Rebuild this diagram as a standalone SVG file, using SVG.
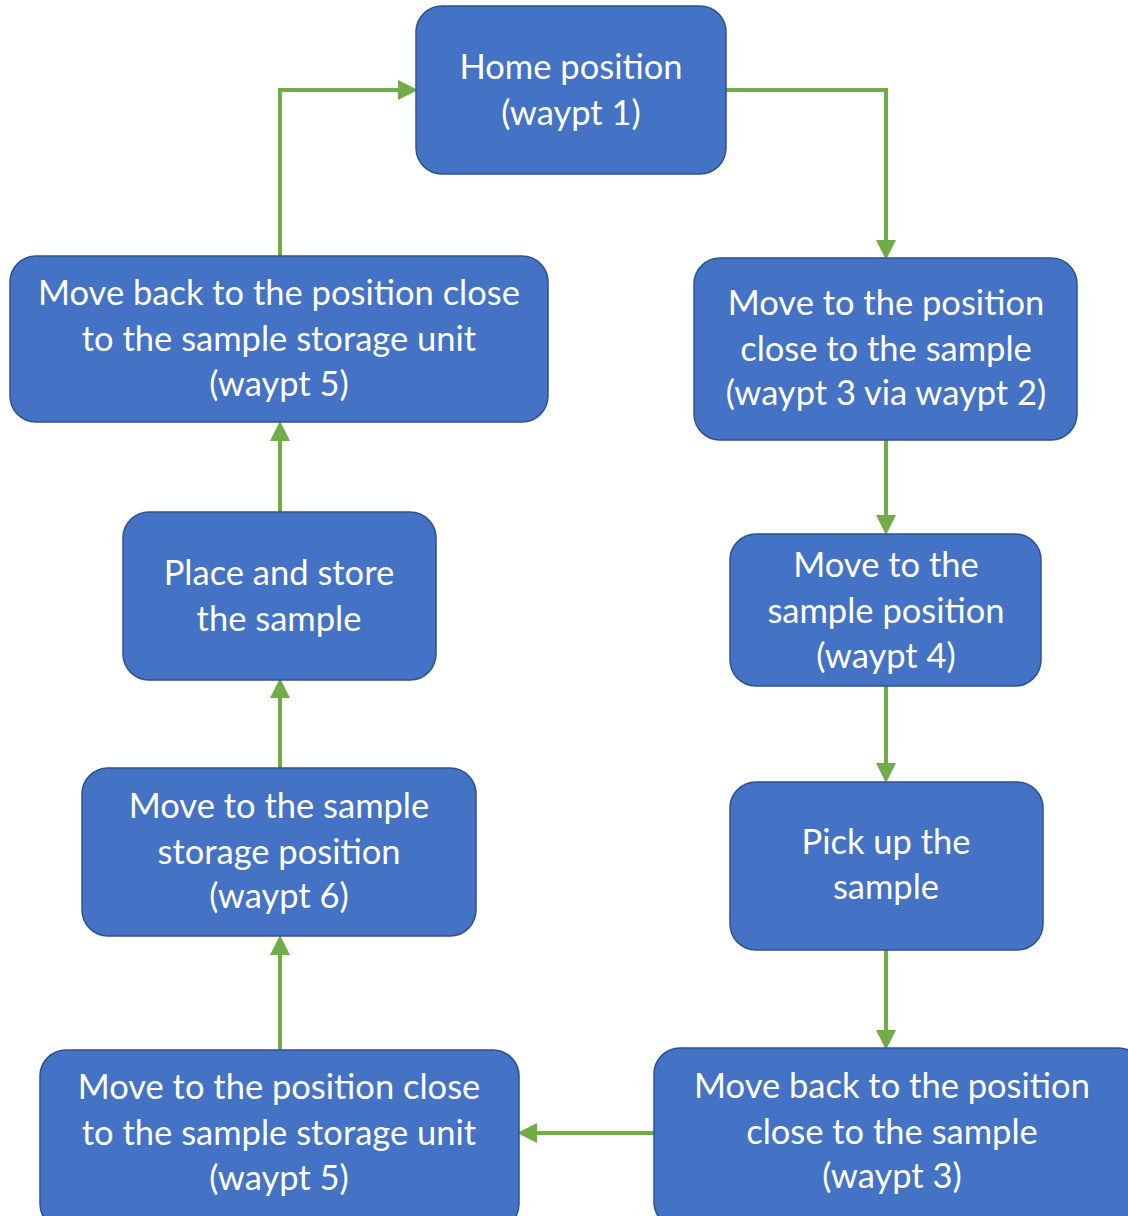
<svg xmlns="http://www.w3.org/2000/svg" width="1128" height="1216" viewBox="0 0 1128 1216">
<defs>
<style>
.box{fill:#4472C4;stroke:#2F528F;stroke-width:1.5}
.t{font-family:Lato,"Liberation Sans",sans-serif;font-size:34.5px;fill:#fff;text-anchor:middle;dominant-baseline:central}
.c{fill:none;stroke:#70AD47;stroke-width:4}
</style>
<marker id="ah" markerWidth="5" markerHeight="5" refX="4" refY="2.5" orient="auto" markerUnits="strokeWidth">
<path d="M0,0 L5,2.5 L0,5 Z" fill="#70AD47"/>
</marker>
</defs>
<rect width="1128" height="1216" fill="#fff"/>
<g id="connectors">
<path class="c" d="M726,90 H886 V256" marker-end="url(#ah)"/>
<path class="c" d="M886,440 V531" marker-end="url(#ah)"/>
<path class="c" d="M886,686 V779" marker-end="url(#ah)"/>
<path class="c" d="M886,950 V1046" marker-end="url(#ah)"/>
<path class="c" d="M654,1133 H521" marker-end="url(#ah)"/>
<path class="c" d="M280,1050 V939" marker-end="url(#ah)"/>
<path class="c" d="M280,768 V682" marker-end="url(#ah)"/>
<path class="c" d="M280,512 V425" marker-end="url(#ah)"/>
<path class="c" d="M280,256 V90 H414" marker-end="url(#ah)"/>
</g>
<g id="n1"><rect class="box" x="416" y="6" width="310" height="168" rx="26"/>
<text class="t" x="571" y="65">Home position</text><text class="t" x="571" y="111">(waypt 1)</text></g>
<g id="n2"><rect class="box" x="694" y="258" width="383" height="182" rx="26"/>
<text class="t" x="886" y="301">Move to the position</text><text class="t" x="886" y="347">close to the sample</text><text class="t" x="886" y="391">(waypt 3 via waypt 2)</text></g>
<g id="n3"><rect class="box" x="730" y="534" width="311" height="152" rx="26"/>
<text class="t" x="886" y="563">Move to the</text><text class="t" x="886" y="609">sample position</text><text class="t" x="886" y="654">(waypt 4)</text></g>
<g id="n4"><rect class="box" x="730" y="782" width="313" height="168" rx="26"/>
<text class="t" x="886" y="840">Pick up the</text><text class="t" x="886" y="885">sample</text></g>
<g id="n5"><rect class="box" x="654" y="1048" width="490" height="180" rx="26"/>
<text class="t" x="892" y="1084">Move back to the position</text><text class="t" x="892" y="1130">close to the sample</text><text class="t" x="892" y="1174">(waypt 3)</text></g>
<g id="n6"><rect class="box" x="40" y="1050" width="479" height="180" rx="26"/>
<text class="t" x="279" y="1085">Move to the position close</text><text class="t" x="279" y="1131">to the sample storage unit</text><text class="t" x="279" y="1176">(waypt 5)</text></g>
<g id="n7"><rect class="box" x="82" y="768" width="394" height="168" rx="26"/>
<text class="t" x="279" y="804">Move to the sample</text><text class="t" x="279" y="850">storage position</text><text class="t" x="279" y="894">(waypt 6)</text></g>
<g id="n8"><rect class="box" x="123" y="512" width="313" height="168" rx="26"/>
<text class="t" x="279" y="571">Place and store</text><text class="t" x="279" y="617">the sample</text></g>
<g id="n9"><rect class="box" x="10" y="256" width="538" height="166" rx="26"/>
<text class="t" x="279" y="291">Move back to the position close</text><text class="t" x="279" y="337">to the sample storage unit</text><text class="t" x="279" y="382">(waypt 5)</text></g>
</svg>
